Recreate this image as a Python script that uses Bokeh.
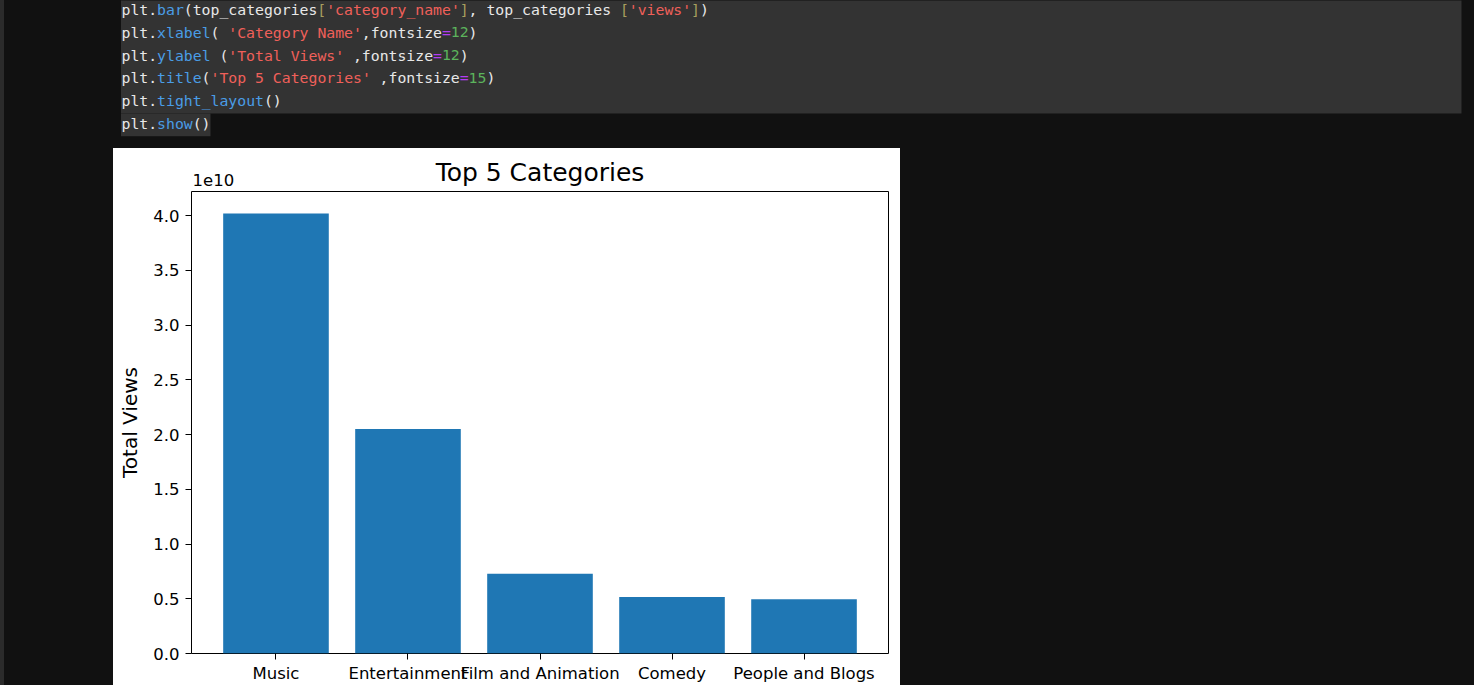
from bokeh.plotting import figure
from bokeh.models import ColumnDataSource, FactorRange, Range1d, FixedTicker, Spacer
from bokeh.layouts import column, row
from bokeh.core.properties import value
from bokeh.embed import file_html
from bokeh.resources import INLINE

# ---------------- data ----------------
categories = ["Music", "Entertainment", "Film and Animation", "Comedy", "People and Blogs"]
views = [4.02e10, 2.05e10, 0.728e10, 0.516e10, 0.496e10]
y_tick_values = [0.0, 0.5e10, 1.0e10, 1.5e10, 2.0e10, 2.5e10, 3.0e10, 3.5e10, 4.0e10]
y_tick_labels = ["0.0", "0.5", "1.0", "1.5", "2.0", "2.5", "3.0", "3.5", "4.0"]
offset_text = "1e10"
title_text = "Top 5 Categories"
y_label = "Total Views"

# code cell shown above the chart: (segment, kind)
code_lines = [
    [("plt.", "w"), ("bar", "f"), ("(top_categories", "w"), ("[", "b"), ("'category_name'", "s"),
     ("]", "b"), (", top_categories ", "w"), ("[", "b"), ("'views'", "s"), ("]", "b"), (")", "w")],
    [("plt.", "w"), ("xlabel", "f"), ("( ", "w"), ("'Category Name'", "s"), (",fontsize", "w"),
     ("=", "o"), ("12", "n"), (")", "w")],
    [("plt.", "w"), ("ylabel", "f"), (" (", "w"), ("'Total Views'", "s"), (" ,fontsize", "w"),
     ("=", "o"), ("12", "n"), (")", "w")],
    [("plt.", "w"), ("title", "f"), ("(", "w"), ("'Top 5 Categories'", "s"), (" ,fontsize", "w"),
     ("=", "o"), ("15", "n"), (")", "w")],
    [("plt.", "w"), ("tight_layout", "f"), ("()", "w")],
    [("plt.", "w"), ("show", "f"), ("()", "w")],
]
kind_colors = {"w": "#e8e8e8", "f": "#4a9de6", "s": "#f0605a", "b": "#a89f5e",
               "o": "#b43cf2", "n": "#5cb45c"}

# ---------------- layout constants ----------------
PAGE_W, PAGE_H = 1474, 685
CODE_H = 148
CODE_X0 = 121
CHAR_W = 8.9
LINE_H = 22.8
CHART_X, CHART_W = 113, 787
HEAD_H = 42
CHART_H = PAGE_H - CODE_H - HEAD_H
FRAME_L, FRAME_R = 78, 12   # borders inside the chart image

# ---------------- code cell ----------------
xs, ys, texts, colors = [], [], [], []
for i, segs in enumerate(code_lines):
    col = 0
    for seg, kind in segs:
        stripped = seg.lstrip(" ")
        lead = len(seg) - len(stripped)
        if stripped.strip():
            xs.append(CODE_X0 + (col + lead) * CHAR_W)
            ys.append((i + 0.5) * LINE_H - 2.5)
            texts.append(stripped.rstrip(" "))
            colors.append(kind_colors[kind])
        col += len(seg)

cf = figure(width=PAGE_W, height=CODE_H, x_range=Range1d(0, PAGE_W), y_range=Range1d(CODE_H, 0),
            output_backend="svg", toolbar_location=None, x_axis_type=None, y_axis_type=None,
            min_border=0, background_fill_alpha=0, border_fill_alpha=0, outline_line_color=None)
cf.grid.visible = False
cf.frame_align = False
last_len = sum(len(s) for s, _ in code_lines[-1])
cf.quad(left=[CODE_X0 - 0.5, CODE_X0 - 0.5], right=[1461, CODE_X0 + last_len * CHAR_W],
        top=[-1, 5 * LINE_H - 1], bottom=[5 * LINE_H - 1, 6 * LINE_H - 1],
        color="#333333", line_color=None)
cf.text(x="x", y="y", text="text", text_color="color",
        source=ColumnDataSource(dict(x=xs, y=ys, text=texts, color=colors)),
        text_font=value("DejaVu Sans Mono"), text_font_size=value("14.8px"),
        text_baseline="middle", text_align="left")

# ---------------- chart header (title + offset text) ----------------
hf = figure(width=CHART_W, height=HEAD_H, x_range=Range1d(0, CHART_W), y_range=Range1d(HEAD_H, 0),
            output_backend="svg", toolbar_location=None, x_axis_type=None, y_axis_type=None,
            min_border=0, background_fill_color="white", border_fill_color="white",
            outline_line_color=None)
hf.grid.visible = False
hf.frame_align = False
hf.text(x=[(FRAME_L + CHART_W - FRAME_R) / 2], y=[23.5], text=[title_text],
        text_font=value("DejaVu Sans"), text_font_size=value("25px"), text_color="#000000",
        text_align="center", text_baseline="middle")
hf.text(x=[FRAME_L + 1], y=[31.5], text=[offset_text],
        text_font=value("DejaVu Sans"), text_font_size=value("16.5px"), text_color="#000000",
        text_align="left", text_baseline="middle")

# ---------------- chart ----------------
pad = 0.056
y_max = max(views) * 1.05
p = figure(x_range=FactorRange(*categories, range_padding=pad),
           y_range=Range1d(0, y_max), width=CHART_W, height=CHART_H,
           output_backend="svg", toolbar_location=None,
           min_border_left=FRAME_L, min_border_right=FRAME_R, min_border_top=1, min_border_bottom=0,
           background_fill_color="white", border_fill_color="white",
           outline_line_color="#000000", outline_line_width=1)
p.frame_align = False
src = ColumnDataSource(dict(category=categories, views=views))
p.vbar(x="category", top="views", width=0.8, source=src, color="#1f77b4", line_color=None)

p.xgrid.visible = False
p.ygrid.visible = False
for ax in (p.xaxis[0], p.yaxis[0]):
    ax.axis_line_color = None
    ax.major_tick_out = 6
    ax.major_tick_in = 0
    ax.minor_tick_out = 0
    ax.minor_tick_in = 0
    ax.major_tick_line_color = "#000000"
    ax.major_label_standoff = 6
    ax.major_label_text_font = "DejaVu Sans"
    ax.major_label_text_font_size = "16.5px"
    ax.major_label_text_color = "#000000"
    ax.axis_label_text_font = "DejaVu Sans"
    ax.axis_label_text_font_size = "20px"
    ax.axis_label_text_font_style = "normal"
    ax.axis_label_text_color = "#000000"
p.xaxis.major_label_standoff = 4
p.yaxis.ticker = FixedTicker(ticks=y_tick_values)
p.yaxis.major_label_overrides = dict(zip(y_tick_values, y_tick_labels))
p.yaxis.axis_label = y_label
p.yaxis.axis_label_standoff = 8

chart_col = column(hf, p, width=CHART_W, height=PAGE_H - CODE_H,
                   styles={"background": "white"})

root = column(
    cf,
    row(Spacer(width=CHART_X, height=PAGE_H - CODE_H),
        chart_col,
        Spacer(width=PAGE_W - CHART_X - CHART_W, height=PAGE_H - CODE_H)),
    width=PAGE_W, height=PAGE_H,
    styles={"overflow": "hidden",
            "background": "linear-gradient(to right, #2b2b2b 0px, #2b2b2b 4px, #111111 4px)"},
)

open("out.html", "w").write(file_html(root, INLINE))
